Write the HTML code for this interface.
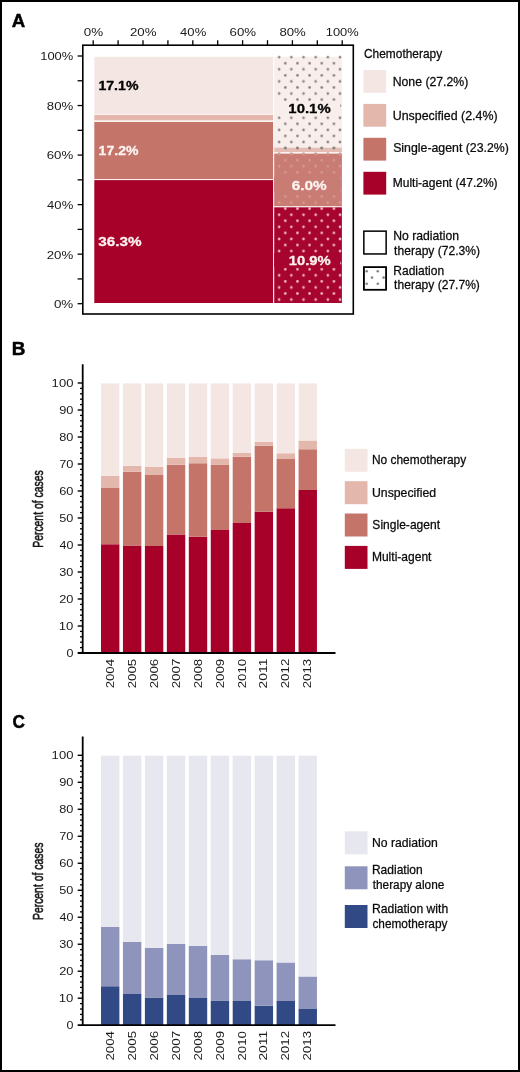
<!DOCTYPE html>
<html lang="en"><head><meta charset="utf-8"><title>Figure</title>
<style>html,body{margin:0;padding:0;background:#fff}svg{display:block}</style></head>
<body>
<svg width="520" height="1072" viewBox="0 0 520 1072" font-family='"Liberation Sans", Arial, Helvetica, sans-serif'>
<defs><pattern id="dk" x="279.2" y="57.2" width="12.16" height="12.12" patternUnits="userSpaceOnUse"><circle cx="0" cy="0" r="1.35" fill="#8c8484"/><circle cx="12.16" cy="0" r="1.35" fill="#8c8484"/><circle cx="0" cy="12.12" r="1.35" fill="#8c8484"/><circle cx="12.16" cy="12.12" r="1.35" fill="#8c8484"/><circle cx="6.08" cy="6.06" r="1.35" fill="#8c8484"/></pattern><pattern id="md" x="279.2" y="57.2" width="12.16" height="12.12" patternUnits="userSpaceOnUse"><circle cx="0" cy="0" r="1.3" fill="#d5978f"/><circle cx="12.16" cy="0" r="1.3" fill="#d5978f"/><circle cx="0" cy="12.12" r="1.3" fill="#d5978f"/><circle cx="12.16" cy="12.12" r="1.3" fill="#d5978f"/><circle cx="6.08" cy="6.06" r="1.3" fill="#d5978f"/></pattern><pattern id="lt" x="279.2" y="57.2" width="12.16" height="12.12" patternUnits="userSpaceOnUse"><circle cx="0" cy="0" r="1.3" fill="#f3b9c0"/><circle cx="12.16" cy="0" r="1.3" fill="#f3b9c0"/><circle cx="0" cy="12.12" r="1.3" fill="#f3b9c0"/><circle cx="12.16" cy="12.12" r="1.3" fill="#f3b9c0"/><circle cx="6.08" cy="6.06" r="1.3" fill="#f3b9c0"/></pattern></defs>
<rect x="0" y="0" width="520" height="1072" fill="#fff"/>
<rect x="1" y="1" width="518" height="1070" fill="none" stroke="#000" stroke-width="2"/>
<text transform="translate(11.83 26.8) scale(1.0030 1)" font-size="18.6" font-weight="bold" fill="#000" stroke="#000" stroke-width="0.5" stroke-linejoin="round">A</text>
<rect x="82.8" y="45.2" width="270.5" height="268.8" fill="none" stroke="#000" stroke-width="1.6"/>
<line x1="93.2" y1="40.2" x2="93.2" y2="45.2" stroke="#000" stroke-width="1.3"/>
<line x1="77.6" y1="303.7" x2="82.8" y2="303.7" stroke="#000" stroke-width="1.3"/>
<line x1="118.1" y1="40.2" x2="118.1" y2="45.2" stroke="#000" stroke-width="1.3"/>
<line x1="77.6" y1="278.93" x2="82.8" y2="278.93" stroke="#000" stroke-width="1.3"/>
<line x1="143" y1="40.2" x2="143" y2="45.2" stroke="#000" stroke-width="1.3"/>
<line x1="77.6" y1="254.16" x2="82.8" y2="254.16" stroke="#000" stroke-width="1.3"/>
<line x1="167.9" y1="40.2" x2="167.9" y2="45.2" stroke="#000" stroke-width="1.3"/>
<line x1="77.6" y1="229.39" x2="82.8" y2="229.39" stroke="#000" stroke-width="1.3"/>
<line x1="192.8" y1="40.2" x2="192.8" y2="45.2" stroke="#000" stroke-width="1.3"/>
<line x1="77.6" y1="204.62" x2="82.8" y2="204.62" stroke="#000" stroke-width="1.3"/>
<line x1="217.7" y1="40.2" x2="217.7" y2="45.2" stroke="#000" stroke-width="1.3"/>
<line x1="77.6" y1="179.85" x2="82.8" y2="179.85" stroke="#000" stroke-width="1.3"/>
<line x1="242.6" y1="40.2" x2="242.6" y2="45.2" stroke="#000" stroke-width="1.3"/>
<line x1="77.6" y1="155.08" x2="82.8" y2="155.08" stroke="#000" stroke-width="1.3"/>
<line x1="267.5" y1="40.2" x2="267.5" y2="45.2" stroke="#000" stroke-width="1.3"/>
<line x1="77.6" y1="130.31" x2="82.8" y2="130.31" stroke="#000" stroke-width="1.3"/>
<line x1="292.4" y1="40.2" x2="292.4" y2="45.2" stroke="#000" stroke-width="1.3"/>
<line x1="77.6" y1="105.54" x2="82.8" y2="105.54" stroke="#000" stroke-width="1.3"/>
<line x1="317.3" y1="40.2" x2="317.3" y2="45.2" stroke="#000" stroke-width="1.3"/>
<line x1="77.6" y1="80.77" x2="82.8" y2="80.77" stroke="#000" stroke-width="1.3"/>
<line x1="342.2" y1="40.2" x2="342.2" y2="45.2" stroke="#000" stroke-width="1.3"/>
<line x1="77.6" y1="56" x2="82.8" y2="56" stroke="#000" stroke-width="1.3"/>
<text transform="translate(83.8 36.1) scale(1.1361 1)" font-size="11.8" fill="#1a1a1a">0%</text>
<text transform="translate(53.9 308.1) scale(1.1361 1)" font-size="11.8" fill="#1a1a1a">0%</text>
<text transform="translate(129.94 36.1) scale(1.1226 1)" font-size="11.8" fill="#1a1a1a">20%</text>
<text transform="translate(46.74 258.56) scale(1.1226 1)" font-size="11.8" fill="#1a1a1a">20%</text>
<text transform="translate(180.11 36.1) scale(1.1067 1)" font-size="11.8" fill="#1a1a1a">40%</text>
<text transform="translate(47.11 209.02) scale(1.1067 1)" font-size="11.8" fill="#1a1a1a">40%</text>
<text transform="translate(229.54 36.1) scale(1.1226 1)" font-size="11.8" fill="#1a1a1a">60%</text>
<text transform="translate(46.74 159.48) scale(1.1226 1)" font-size="11.8" fill="#1a1a1a">60%</text>
<text transform="translate(279.44 36.1) scale(1.1182 1)" font-size="11.8" fill="#1a1a1a">80%</text>
<text transform="translate(46.84 109.94) scale(1.1182 1)" font-size="11.8" fill="#1a1a1a">80%</text>
<text transform="translate(325.73 36.1) scale(1.0942 1)" font-size="11.8" fill="#1a1a1a">100%</text>
<text transform="translate(40.23 60.4) scale(1.0942 1)" font-size="11.8" fill="#1a1a1a">100%</text>
<rect x="94.3" y="56.8" width="178.8" height="57.7" fill="#f4e6e3"/>
<rect x="94.3" y="115" width="178.8" height="5.4" fill="#e3b7ac"/>
<rect x="94.3" y="121.9" width="178.8" height="57.2" fill="#c5746a"/>
<rect x="94.3" y="180.1" width="178.8" height="122.9" fill="#a70029"/>
<rect x="274.2" y="56.8" width="67.7" height="90.8" fill="#f8eeec"/>
<rect x="274.2" y="147.6" width="67.7" height="4.6" fill="#e6bdb4"/>
<rect x="274.2" y="153.6" width="67.7" height="52.6" fill="#c97c74"/>
<rect x="274.2" y="207.3" width="67.7" height="95.7" fill="#a70530"/>
<rect x="275.1" y="55.4" width="66.8" height="93.6" fill="url(#dk)"/>
<rect x="275.1" y="146.2" width="66.8" height="7.4" fill="url(#dk)"/>
<rect x="275.1" y="152.2" width="66.8" height="55.4" fill="url(#md)"/>
<rect x="275.1" y="205.9" width="66.8" height="97.1" fill="url(#lt)"/>
<rect x="274.2" y="101.6" width="66" height="14" fill="#f8eeec"/>
<rect x="274.2" y="176.4" width="66" height="16.1" fill="#c97c74"/>
<rect x="274.2" y="253.1" width="66" height="14" fill="#a70530"/>
<text transform="translate(98.42 89.9) scale(1.0384 1)" font-size="13.6" font-weight="bold" fill="#000" stroke="#000" stroke-width="0.3" stroke-linejoin="round">17.1%</text>
<text transform="translate(98.62 154.5) scale(1.0330 1)" font-size="13.6" font-weight="bold" fill="#fdf3f0" stroke="#fdf3f0" stroke-width="0.3" stroke-linejoin="round">17.2%</text>
<text transform="translate(98.26 245.9) scale(1.1237 1)" font-size="13.6" font-weight="bold" fill="#fdf3f0" stroke="#fdf3f0" stroke-width="0.3" stroke-linejoin="round">36.3%</text>
<text transform="translate(288.37 113) scale(1.0973 1)" font-size="13.6" font-weight="bold" fill="#000" stroke="#000" stroke-width="0.3" stroke-linejoin="round">10.1%</text>
<text transform="translate(291.66 189.9) scale(1.1274 1)" font-size="13.6" font-weight="bold" fill="#fdf3f0" stroke="#fdf3f0" stroke-width="0.3" stroke-linejoin="round">6.0%</text>
<text transform="translate(288.78 264.5) scale(1.0865 1)" font-size="13.6" font-weight="bold" fill="#fdf3f0" stroke="#fdf3f0" stroke-width="0.3" stroke-linejoin="round">10.9%</text>
<text transform="translate(364 57.8) scale(0.9774 1)" font-size="12.2" fill="#0a0a0a" stroke="#0a0a0a" stroke-width="0.25" stroke-linejoin="round">Chemotherapy</text>
<rect x="363.4" y="70" width="22.8" height="22.8" fill="#f4e6e3"/>
<text transform="translate(392.69 85.6) scale(1.0063 1)" font-size="12.2" fill="#0a0a0a" stroke="#0a0a0a" stroke-width="0.25" stroke-linejoin="round">None (27.2%)</text>
<rect x="363.4" y="103.9" width="22.8" height="22.8" fill="#e3b7ac"/>
<text transform="translate(392.74 119.6) scale(1.0179 1)" font-size="12.2" fill="#0a0a0a" stroke="#0a0a0a" stroke-width="0.25" stroke-linejoin="round">Unspecified (2.4%)</text>
<rect x="363.4" y="137.8" width="22.8" height="22.8" fill="#c5746a"/>
<text transform="translate(393.14 151.5) scale(1.0111 1)" font-size="12.2" fill="#0a0a0a" stroke="#0a0a0a" stroke-width="0.25" stroke-linejoin="round">Single-agent (23.2%)</text>
<rect x="363.4" y="171.8" width="22.8" height="22.8" fill="#a70029"/>
<text transform="translate(392.71 187.1) scale(0.9856 1)" font-size="12.2" fill="#0a0a0a" stroke="#0a0a0a" stroke-width="0.25" stroke-linejoin="round">Multi-agent (47.2%)</text>
<rect x="363.85" y="231.15" width="22.3" height="22.8" fill="#fff" stroke="#000" stroke-width="1.5"/>
<rect x="363.85" y="267.2" width="22.3" height="22.5" fill="#fff" stroke="#000" stroke-width="1.5"/>
<circle cx="366.7" cy="271.2" r="1.3" fill="#8c8484"/>
<circle cx="377.8" cy="271.2" r="1.3" fill="#8c8484"/>
<circle cx="372.0" cy="277.6" r="1.3" fill="#8c8484"/>
<circle cx="383.6" cy="277.6" r="1.3" fill="#8c8484"/>
<circle cx="366.7" cy="283.8" r="1.3" fill="#8c8484"/>
<circle cx="377.8" cy="283.8" r="1.3" fill="#8c8484"/>
<rect x="363.85" y="267.2" width="22.3" height="22.5" fill="none" stroke="#000" stroke-width="1.5"/>
<text transform="translate(393.29 239.9) scale(1.0002 1)" font-size="12.2" fill="#0a0a0a" stroke="#0a0a0a" stroke-width="0.25" stroke-linejoin="round">No radiation</text>
<text transform="translate(394.12 254.8) scale(0.9908 1)" font-size="12.2" fill="#0a0a0a" stroke="#0a0a0a" stroke-width="0.25" stroke-linejoin="round">therapy (72.3%)</text>
<text transform="translate(393.31 274.6) scale(0.9864 1)" font-size="12.2" fill="#0a0a0a" stroke="#0a0a0a" stroke-width="0.25" stroke-linejoin="round">Radiation</text>
<text transform="translate(394.12 289.2) scale(0.9885 1)" font-size="12.2" fill="#0a0a0a" stroke="#0a0a0a" stroke-width="0.25" stroke-linejoin="round">therapy (27.7%)</text>
<text transform="translate(11.83 354.9) scale(1.0136 1)" font-size="18.6" font-weight="bold" fill="#000" stroke="#000" stroke-width="0.5" stroke-linejoin="round">B</text>
<rect x="101" y="544.25" width="18.4" height="108.75" fill="#a70029"/>
<rect x="101" y="488" width="18.4" height="56.25" fill="#c5746a"/>
<rect x="101" y="475.75" width="18.4" height="12.25" fill="#e3b7ac"/>
<rect x="101" y="383.4" width="18.4" height="92.35" fill="#f4e6e3"/>
<rect x="122.95" y="545.5" width="18.4" height="107.5" fill="#a70029"/>
<rect x="122.95" y="471.75" width="18.4" height="73.75" fill="#c5746a"/>
<rect x="122.95" y="465.75" width="18.4" height="6" fill="#e3b7ac"/>
<rect x="122.95" y="383.4" width="18.4" height="82.35" fill="#f4e6e3"/>
<rect x="144.9" y="546" width="18.4" height="107" fill="#a70029"/>
<rect x="144.9" y="475" width="18.4" height="71" fill="#c5746a"/>
<rect x="144.9" y="467" width="18.4" height="8" fill="#e3b7ac"/>
<rect x="144.9" y="383.4" width="18.4" height="83.6" fill="#f4e6e3"/>
<rect x="166.85" y="534.5" width="18.4" height="118.5" fill="#a70029"/>
<rect x="166.85" y="464.75" width="18.4" height="69.75" fill="#c5746a"/>
<rect x="166.85" y="458" width="18.4" height="6.75" fill="#e3b7ac"/>
<rect x="166.85" y="383.4" width="18.4" height="74.6" fill="#f4e6e3"/>
<rect x="188.8" y="536.75" width="18.4" height="116.25" fill="#a70029"/>
<rect x="188.8" y="463.25" width="18.4" height="73.5" fill="#c5746a"/>
<rect x="188.8" y="457" width="18.4" height="6.25" fill="#e3b7ac"/>
<rect x="188.8" y="383.4" width="18.4" height="73.6" fill="#f4e6e3"/>
<rect x="210.75" y="530" width="18.4" height="123" fill="#a70029"/>
<rect x="210.75" y="464.6" width="18.4" height="65.4" fill="#c5746a"/>
<rect x="210.75" y="458.4" width="18.4" height="6.2" fill="#e3b7ac"/>
<rect x="210.75" y="383.4" width="18.4" height="75" fill="#f4e6e3"/>
<rect x="232.7" y="523" width="18.4" height="130" fill="#a70029"/>
<rect x="232.7" y="456.75" width="18.4" height="66.25" fill="#c5746a"/>
<rect x="232.7" y="453" width="18.4" height="3.75" fill="#e3b7ac"/>
<rect x="232.7" y="383.4" width="18.4" height="69.6" fill="#f4e6e3"/>
<rect x="254.65" y="511.75" width="18.4" height="141.25" fill="#a70029"/>
<rect x="254.65" y="445.75" width="18.4" height="66" fill="#c5746a"/>
<rect x="254.65" y="442" width="18.4" height="3.75" fill="#e3b7ac"/>
<rect x="254.65" y="383.4" width="18.4" height="58.6" fill="#f4e6e3"/>
<rect x="276.6" y="508.25" width="18.4" height="144.75" fill="#a70029"/>
<rect x="276.6" y="459" width="18.4" height="49.25" fill="#c5746a"/>
<rect x="276.6" y="453.25" width="18.4" height="5.75" fill="#e3b7ac"/>
<rect x="276.6" y="383.4" width="18.4" height="69.85" fill="#f4e6e3"/>
<rect x="298.55" y="490" width="18.4" height="163" fill="#a70029"/>
<rect x="298.55" y="449.25" width="18.4" height="40.75" fill="#c5746a"/>
<rect x="298.55" y="440.5" width="18.4" height="8.75" fill="#e3b7ac"/>
<rect x="298.55" y="383.4" width="18.4" height="57.1" fill="#f4e6e3"/>
<line x1="82.7" y1="364.3" x2="82.7" y2="653.9" stroke="#000" stroke-width="1.8"/>
<line x1="77.7" y1="653" x2="335.5" y2="653" stroke="#000" stroke-width="1.8"/>
<text transform="translate(66.43 657.15) scale(1.0593 1)" font-size="11.8" fill="#1a1a1a">0</text>
<line x1="80" y1="647.6" x2="82.7" y2="647.6" stroke="#000" stroke-width="1.3"/>
<line x1="80" y1="642.2" x2="82.7" y2="642.2" stroke="#000" stroke-width="1.3"/>
<line x1="80" y1="636.8" x2="82.7" y2="636.8" stroke="#000" stroke-width="1.3"/>
<line x1="80" y1="631.4" x2="82.7" y2="631.4" stroke="#000" stroke-width="1.3"/>
<line x1="77.7" y1="626" x2="82.7" y2="626" stroke="#000" stroke-width="1.4"/>
<text transform="translate(58.82 630.15) scale(1.1130 1)" font-size="11.8" fill="#1a1a1a">10</text>
<line x1="80" y1="620.6" x2="82.7" y2="620.6" stroke="#000" stroke-width="1.3"/>
<line x1="80" y1="615.2" x2="82.7" y2="615.2" stroke="#000" stroke-width="1.3"/>
<line x1="80" y1="609.8" x2="82.7" y2="609.8" stroke="#000" stroke-width="1.3"/>
<line x1="80" y1="604.4" x2="82.7" y2="604.4" stroke="#000" stroke-width="1.3"/>
<line x1="77.7" y1="599" x2="82.7" y2="599" stroke="#000" stroke-width="1.4"/>
<text transform="translate(59.16 603.15) scale(1.0857 1)" font-size="11.8" fill="#1a1a1a">20</text>
<line x1="80" y1="593.6" x2="82.7" y2="593.6" stroke="#000" stroke-width="1.3"/>
<line x1="80" y1="588.2" x2="82.7" y2="588.2" stroke="#000" stroke-width="1.3"/>
<line x1="80" y1="582.8" x2="82.7" y2="582.8" stroke="#000" stroke-width="1.3"/>
<line x1="80" y1="577.4" x2="82.7" y2="577.4" stroke="#000" stroke-width="1.3"/>
<line x1="77.7" y1="572" x2="82.7" y2="572" stroke="#000" stroke-width="1.4"/>
<text transform="translate(59.33 576.15) scale(1.0726 1)" font-size="11.8" fill="#1a1a1a">30</text>
<line x1="80" y1="566.6" x2="82.7" y2="566.6" stroke="#000" stroke-width="1.3"/>
<line x1="80" y1="561.2" x2="82.7" y2="561.2" stroke="#000" stroke-width="1.3"/>
<line x1="80" y1="555.8" x2="82.7" y2="555.8" stroke="#000" stroke-width="1.3"/>
<line x1="80" y1="550.4" x2="82.7" y2="550.4" stroke="#000" stroke-width="1.3"/>
<line x1="77.7" y1="545" x2="82.7" y2="545" stroke="#000" stroke-width="1.4"/>
<text transform="translate(59.52 549.15) scale(1.0573 1)" font-size="11.8" fill="#1a1a1a">40</text>
<line x1="80" y1="539.6" x2="82.7" y2="539.6" stroke="#000" stroke-width="1.3"/>
<line x1="80" y1="534.2" x2="82.7" y2="534.2" stroke="#000" stroke-width="1.3"/>
<line x1="80" y1="528.8" x2="82.7" y2="528.8" stroke="#000" stroke-width="1.3"/>
<line x1="80" y1="523.4" x2="82.7" y2="523.4" stroke="#000" stroke-width="1.3"/>
<line x1="77.7" y1="518" x2="82.7" y2="518" stroke="#000" stroke-width="1.4"/>
<text transform="translate(59.29 522.15) scale(1.0752 1)" font-size="11.8" fill="#1a1a1a">50</text>
<line x1="80" y1="512.6" x2="82.7" y2="512.6" stroke="#000" stroke-width="1.3"/>
<line x1="80" y1="507.2" x2="82.7" y2="507.2" stroke="#000" stroke-width="1.3"/>
<line x1="80" y1="501.8" x2="82.7" y2="501.8" stroke="#000" stroke-width="1.3"/>
<line x1="80" y1="496.4" x2="82.7" y2="496.4" stroke="#000" stroke-width="1.3"/>
<line x1="77.7" y1="491" x2="82.7" y2="491" stroke="#000" stroke-width="1.4"/>
<text transform="translate(59.16 495.15) scale(1.0857 1)" font-size="11.8" fill="#1a1a1a">60</text>
<line x1="80" y1="485.6" x2="82.7" y2="485.6" stroke="#000" stroke-width="1.3"/>
<line x1="80" y1="480.2" x2="82.7" y2="480.2" stroke="#000" stroke-width="1.3"/>
<line x1="80" y1="474.8" x2="82.7" y2="474.8" stroke="#000" stroke-width="1.3"/>
<line x1="80" y1="469.4" x2="82.7" y2="469.4" stroke="#000" stroke-width="1.3"/>
<line x1="77.7" y1="464" x2="82.7" y2="464" stroke="#000" stroke-width="1.4"/>
<text transform="translate(59.16 468.15) scale(1.0857 1)" font-size="11.8" fill="#1a1a1a">70</text>
<line x1="80" y1="458.6" x2="82.7" y2="458.6" stroke="#000" stroke-width="1.3"/>
<line x1="80" y1="453.2" x2="82.7" y2="453.2" stroke="#000" stroke-width="1.3"/>
<line x1="80" y1="447.8" x2="82.7" y2="447.8" stroke="#000" stroke-width="1.3"/>
<line x1="80" y1="442.4" x2="82.7" y2="442.4" stroke="#000" stroke-width="1.3"/>
<line x1="77.7" y1="437" x2="82.7" y2="437" stroke="#000" stroke-width="1.4"/>
<text transform="translate(59.26 441.15) scale(1.0778 1)" font-size="11.8" fill="#1a1a1a">80</text>
<line x1="80" y1="431.6" x2="82.7" y2="431.6" stroke="#000" stroke-width="1.3"/>
<line x1="80" y1="426.2" x2="82.7" y2="426.2" stroke="#000" stroke-width="1.3"/>
<line x1="80" y1="420.8" x2="82.7" y2="420.8" stroke="#000" stroke-width="1.3"/>
<line x1="80" y1="415.4" x2="82.7" y2="415.4" stroke="#000" stroke-width="1.3"/>
<line x1="77.7" y1="410" x2="82.7" y2="410" stroke="#000" stroke-width="1.4"/>
<text transform="translate(59.19 414.15) scale(1.0831 1)" font-size="11.8" fill="#1a1a1a">90</text>
<line x1="80" y1="404.6" x2="82.7" y2="404.6" stroke="#000" stroke-width="1.3"/>
<line x1="80" y1="399.2" x2="82.7" y2="399.2" stroke="#000" stroke-width="1.3"/>
<line x1="80" y1="393.8" x2="82.7" y2="393.8" stroke="#000" stroke-width="1.3"/>
<line x1="80" y1="388.4" x2="82.7" y2="388.4" stroke="#000" stroke-width="1.3"/>
<line x1="77.7" y1="383" x2="82.7" y2="383" stroke="#000" stroke-width="1.4"/>
<text transform="translate(51.62 387.15) scale(1.1063 1)" font-size="11.8" fill="#1a1a1a">100</text>
<text transform="translate(113.8 688.36) rotate(-90) scale(1.1220 1)" font-size="11.8" fill="#1a1a1a">2004</text>
<text transform="translate(135.75 688.37) rotate(-90) scale(1.1286 1)" font-size="11.8" fill="#1a1a1a">2005</text>
<text transform="translate(157.7 688.37) rotate(-90) scale(1.1299 1)" font-size="11.8" fill="#1a1a1a">2006</text>
<text transform="translate(179.65 688.37) rotate(-90) scale(1.1326 1)" font-size="11.8" fill="#1a1a1a">2007</text>
<text transform="translate(201.6 688.37) rotate(-90) scale(1.1299 1)" font-size="11.8" fill="#1a1a1a">2008</text>
<text transform="translate(223.55 688.37) rotate(-90) scale(1.1313 1)" font-size="11.8" fill="#1a1a1a">2009</text>
<text transform="translate(245.5 688.37) rotate(-90) scale(1.1273 1)" font-size="11.8" fill="#1a1a1a">2010</text>
<text transform="translate(267.45 688.39) rotate(-90) scale(1.1726 1)" font-size="11.8" fill="#1a1a1a">2011</text>
<text transform="translate(289.4 688.37) rotate(-90) scale(1.1326 1)" font-size="11.8" fill="#1a1a1a">2012</text>
<text transform="translate(311.35 688.37) rotate(-90) scale(1.1299 1)" font-size="11.8" fill="#1a1a1a">2013</text>
<text transform="translate(42.65 547.76) rotate(-90) scale(0.7219 1)" font-size="14.4" fill="#1a1a1a" stroke="#1a1a1a" stroke-width="0.6" stroke-linejoin="round">Percent of cases</text>
<rect x="344.8" y="448.8" width="22.7" height="23" fill="#f4e6e3"/>
<text transform="translate(371.91 464.2) scale(0.9795 1)" font-size="12.2" fill="#0a0a0a" stroke="#0a0a0a" stroke-width="0.25" stroke-linejoin="round">No chemotherapy</text>
<rect x="344.8" y="481.2" width="22.7" height="23" fill="#e3b7ac"/>
<text transform="translate(371.95 496.7) scale(1.0075 1)" font-size="12.2" fill="#0a0a0a" stroke="#0a0a0a" stroke-width="0.25" stroke-linejoin="round">Unspecified</text>
<rect x="344.8" y="513.5" width="22.7" height="23" fill="#c5746a"/>
<text transform="translate(372.36 528.9) scale(0.9888 1)" font-size="12.2" fill="#0a0a0a" stroke="#0a0a0a" stroke-width="0.25" stroke-linejoin="round">Single-agent</text>
<rect x="344.8" y="545.9" width="22.7" height="23" fill="#a70029"/>
<text transform="translate(371.91 561.2) scale(0.9872 1)" font-size="12.2" fill="#0a0a0a" stroke="#0a0a0a" stroke-width="0.25" stroke-linejoin="round">Multi-agent</text>
<text transform="translate(12.41 727.5) scale(0.9275 1)" font-size="18.6" font-weight="bold" fill="#000" stroke="#000" stroke-width="0.5" stroke-linejoin="round">C</text>
<rect x="101" y="986.25" width="18.4" height="38.95" fill="#314a85"/>
<rect x="101" y="927" width="18.4" height="59.25" fill="#8e94bb"/>
<rect x="101" y="755.7" width="18.4" height="171.3" fill="#e7e7f0"/>
<rect x="122.95" y="994" width="18.4" height="31.2" fill="#314a85"/>
<rect x="122.95" y="942" width="18.4" height="52" fill="#8e94bb"/>
<rect x="122.95" y="755.7" width="18.4" height="186.3" fill="#e7e7f0"/>
<rect x="144.9" y="997.5" width="18.4" height="27.7" fill="#314a85"/>
<rect x="144.9" y="947.75" width="18.4" height="49.75" fill="#8e94bb"/>
<rect x="144.9" y="755.7" width="18.4" height="192.05" fill="#e7e7f0"/>
<rect x="166.85" y="995" width="18.4" height="30.2" fill="#314a85"/>
<rect x="166.85" y="944" width="18.4" height="51" fill="#8e94bb"/>
<rect x="166.85" y="755.7" width="18.4" height="188.3" fill="#e7e7f0"/>
<rect x="188.8" y="998" width="18.4" height="27.2" fill="#314a85"/>
<rect x="188.8" y="945.8" width="18.4" height="52.2" fill="#8e94bb"/>
<rect x="188.8" y="755.7" width="18.4" height="190.1" fill="#e7e7f0"/>
<rect x="210.75" y="1000.5" width="18.4" height="24.7" fill="#314a85"/>
<rect x="210.75" y="955" width="18.4" height="45.5" fill="#8e94bb"/>
<rect x="210.75" y="755.7" width="18.4" height="199.3" fill="#e7e7f0"/>
<rect x="232.7" y="1001" width="18.4" height="24.2" fill="#314a85"/>
<rect x="232.7" y="959.25" width="18.4" height="41.75" fill="#8e94bb"/>
<rect x="232.7" y="755.7" width="18.4" height="203.55" fill="#e7e7f0"/>
<rect x="254.65" y="1005.75" width="18.4" height="19.45" fill="#314a85"/>
<rect x="254.65" y="960.25" width="18.4" height="45.5" fill="#8e94bb"/>
<rect x="254.65" y="755.7" width="18.4" height="204.55" fill="#e7e7f0"/>
<rect x="276.6" y="1001" width="18.4" height="24.2" fill="#314a85"/>
<rect x="276.6" y="962.5" width="18.4" height="38.5" fill="#8e94bb"/>
<rect x="276.6" y="755.7" width="18.4" height="206.8" fill="#e7e7f0"/>
<rect x="298.55" y="1009" width="18.4" height="16.2" fill="#314a85"/>
<rect x="298.55" y="976.5" width="18.4" height="32.5" fill="#8e94bb"/>
<rect x="298.55" y="755.7" width="18.4" height="220.8" fill="#e7e7f0"/>
<line x1="82.7" y1="736.5" x2="82.7" y2="1026.1" stroke="#000" stroke-width="1.8"/>
<line x1="77.7" y1="1025.2" x2="335.5" y2="1025.2" stroke="#000" stroke-width="1.8"/>
<text transform="translate(66.43 1029.35) scale(1.0593 1)" font-size="11.8" fill="#1a1a1a">0</text>
<line x1="80" y1="1019.8" x2="82.7" y2="1019.8" stroke="#000" stroke-width="1.3"/>
<line x1="80" y1="1014.4" x2="82.7" y2="1014.4" stroke="#000" stroke-width="1.3"/>
<line x1="80" y1="1009.01" x2="82.7" y2="1009.01" stroke="#000" stroke-width="1.3"/>
<line x1="80" y1="1003.61" x2="82.7" y2="1003.61" stroke="#000" stroke-width="1.3"/>
<line x1="77.7" y1="998.21" x2="82.7" y2="998.21" stroke="#000" stroke-width="1.4"/>
<text transform="translate(58.82 1002.36) scale(1.1130 1)" font-size="11.8" fill="#1a1a1a">10</text>
<line x1="80" y1="992.81" x2="82.7" y2="992.81" stroke="#000" stroke-width="1.3"/>
<line x1="80" y1="987.41" x2="82.7" y2="987.41" stroke="#000" stroke-width="1.3"/>
<line x1="80" y1="982.02" x2="82.7" y2="982.02" stroke="#000" stroke-width="1.3"/>
<line x1="80" y1="976.62" x2="82.7" y2="976.62" stroke="#000" stroke-width="1.3"/>
<line x1="77.7" y1="971.22" x2="82.7" y2="971.22" stroke="#000" stroke-width="1.4"/>
<text transform="translate(59.16 975.37) scale(1.0857 1)" font-size="11.8" fill="#1a1a1a">20</text>
<line x1="80" y1="965.82" x2="82.7" y2="965.82" stroke="#000" stroke-width="1.3"/>
<line x1="80" y1="960.42" x2="82.7" y2="960.42" stroke="#000" stroke-width="1.3"/>
<line x1="80" y1="955.03" x2="82.7" y2="955.03" stroke="#000" stroke-width="1.3"/>
<line x1="80" y1="949.63" x2="82.7" y2="949.63" stroke="#000" stroke-width="1.3"/>
<line x1="77.7" y1="944.23" x2="82.7" y2="944.23" stroke="#000" stroke-width="1.4"/>
<text transform="translate(59.33 948.38) scale(1.0726 1)" font-size="11.8" fill="#1a1a1a">30</text>
<line x1="80" y1="938.83" x2="82.7" y2="938.83" stroke="#000" stroke-width="1.3"/>
<line x1="80" y1="933.43" x2="82.7" y2="933.43" stroke="#000" stroke-width="1.3"/>
<line x1="80" y1="928.04" x2="82.7" y2="928.04" stroke="#000" stroke-width="1.3"/>
<line x1="80" y1="922.64" x2="82.7" y2="922.64" stroke="#000" stroke-width="1.3"/>
<line x1="77.7" y1="917.24" x2="82.7" y2="917.24" stroke="#000" stroke-width="1.4"/>
<text transform="translate(59.52 921.39) scale(1.0573 1)" font-size="11.8" fill="#1a1a1a">40</text>
<line x1="80" y1="911.84" x2="82.7" y2="911.84" stroke="#000" stroke-width="1.3"/>
<line x1="80" y1="906.44" x2="82.7" y2="906.44" stroke="#000" stroke-width="1.3"/>
<line x1="80" y1="901.05" x2="82.7" y2="901.05" stroke="#000" stroke-width="1.3"/>
<line x1="80" y1="895.65" x2="82.7" y2="895.65" stroke="#000" stroke-width="1.3"/>
<line x1="77.7" y1="890.25" x2="82.7" y2="890.25" stroke="#000" stroke-width="1.4"/>
<text transform="translate(59.29 894.4) scale(1.0752 1)" font-size="11.8" fill="#1a1a1a">50</text>
<line x1="80" y1="884.85" x2="82.7" y2="884.85" stroke="#000" stroke-width="1.3"/>
<line x1="80" y1="879.45" x2="82.7" y2="879.45" stroke="#000" stroke-width="1.3"/>
<line x1="80" y1="874.06" x2="82.7" y2="874.06" stroke="#000" stroke-width="1.3"/>
<line x1="80" y1="868.66" x2="82.7" y2="868.66" stroke="#000" stroke-width="1.3"/>
<line x1="77.7" y1="863.26" x2="82.7" y2="863.26" stroke="#000" stroke-width="1.4"/>
<text transform="translate(59.16 867.41) scale(1.0857 1)" font-size="11.8" fill="#1a1a1a">60</text>
<line x1="80" y1="857.86" x2="82.7" y2="857.86" stroke="#000" stroke-width="1.3"/>
<line x1="80" y1="852.46" x2="82.7" y2="852.46" stroke="#000" stroke-width="1.3"/>
<line x1="80" y1="847.07" x2="82.7" y2="847.07" stroke="#000" stroke-width="1.3"/>
<line x1="80" y1="841.67" x2="82.7" y2="841.67" stroke="#000" stroke-width="1.3"/>
<line x1="77.7" y1="836.27" x2="82.7" y2="836.27" stroke="#000" stroke-width="1.4"/>
<text transform="translate(59.16 840.42) scale(1.0857 1)" font-size="11.8" fill="#1a1a1a">70</text>
<line x1="80" y1="830.87" x2="82.7" y2="830.87" stroke="#000" stroke-width="1.3"/>
<line x1="80" y1="825.47" x2="82.7" y2="825.47" stroke="#000" stroke-width="1.3"/>
<line x1="80" y1="820.08" x2="82.7" y2="820.08" stroke="#000" stroke-width="1.3"/>
<line x1="80" y1="814.68" x2="82.7" y2="814.68" stroke="#000" stroke-width="1.3"/>
<line x1="77.7" y1="809.28" x2="82.7" y2="809.28" stroke="#000" stroke-width="1.4"/>
<text transform="translate(59.26 813.43) scale(1.0778 1)" font-size="11.8" fill="#1a1a1a">80</text>
<line x1="80" y1="803.88" x2="82.7" y2="803.88" stroke="#000" stroke-width="1.3"/>
<line x1="80" y1="798.48" x2="82.7" y2="798.48" stroke="#000" stroke-width="1.3"/>
<line x1="80" y1="793.09" x2="82.7" y2="793.09" stroke="#000" stroke-width="1.3"/>
<line x1="80" y1="787.69" x2="82.7" y2="787.69" stroke="#000" stroke-width="1.3"/>
<line x1="77.7" y1="782.29" x2="82.7" y2="782.29" stroke="#000" stroke-width="1.4"/>
<text transform="translate(59.19 786.44) scale(1.0831 1)" font-size="11.8" fill="#1a1a1a">90</text>
<line x1="80" y1="776.89" x2="82.7" y2="776.89" stroke="#000" stroke-width="1.3"/>
<line x1="80" y1="771.49" x2="82.7" y2="771.49" stroke="#000" stroke-width="1.3"/>
<line x1="80" y1="766.1" x2="82.7" y2="766.1" stroke="#000" stroke-width="1.3"/>
<line x1="80" y1="760.7" x2="82.7" y2="760.7" stroke="#000" stroke-width="1.3"/>
<line x1="77.7" y1="755.3" x2="82.7" y2="755.3" stroke="#000" stroke-width="1.4"/>
<text transform="translate(51.62 759.45) scale(1.1063 1)" font-size="11.8" fill="#1a1a1a">100</text>
<text transform="translate(113.8 1060.56) rotate(-90) scale(1.1220 1)" font-size="11.8" fill="#1a1a1a">2004</text>
<text transform="translate(135.75 1060.57) rotate(-90) scale(1.1286 1)" font-size="11.8" fill="#1a1a1a">2005</text>
<text transform="translate(157.7 1060.57) rotate(-90) scale(1.1299 1)" font-size="11.8" fill="#1a1a1a">2006</text>
<text transform="translate(179.65 1060.57) rotate(-90) scale(1.1326 1)" font-size="11.8" fill="#1a1a1a">2007</text>
<text transform="translate(201.6 1060.57) rotate(-90) scale(1.1299 1)" font-size="11.8" fill="#1a1a1a">2008</text>
<text transform="translate(223.55 1060.57) rotate(-90) scale(1.1313 1)" font-size="11.8" fill="#1a1a1a">2009</text>
<text transform="translate(245.5 1060.57) rotate(-90) scale(1.1273 1)" font-size="11.8" fill="#1a1a1a">2010</text>
<text transform="translate(267.45 1060.59) rotate(-90) scale(1.1726 1)" font-size="11.8" fill="#1a1a1a">2011</text>
<text transform="translate(289.4 1060.57) rotate(-90) scale(1.1326 1)" font-size="11.8" fill="#1a1a1a">2012</text>
<text transform="translate(311.35 1060.57) rotate(-90) scale(1.1299 1)" font-size="11.8" fill="#1a1a1a">2013</text>
<text transform="translate(42.65 920.01) rotate(-90) scale(0.7219 1)" font-size="14.4" fill="#1a1a1a" stroke="#1a1a1a" stroke-width="0.6" stroke-linejoin="round">Percent of cases</text>
<rect x="344.8" y="831.3" width="22.7" height="23" fill="#e7e7f0"/>
<text transform="translate(371.89 846.8) scale(1.0017 1)" font-size="12.2" fill="#0a0a0a" stroke="#0a0a0a" stroke-width="0.25" stroke-linejoin="round">No radiation</text>
<rect x="344.8" y="866.3" width="22.7" height="23" fill="#8e94bb"/>
<text transform="translate(371.91 874.3) scale(0.9864 1)" font-size="12.2" fill="#0a0a0a" stroke="#0a0a0a" stroke-width="0.25" stroke-linejoin="round">Radiation</text>
<text transform="translate(372.72 889.4) scale(0.9682 1)" font-size="12.2" fill="#0a0a0a" stroke="#0a0a0a" stroke-width="0.25" stroke-linejoin="round">therapy alone</text>
<rect x="344.8" y="905" width="22.7" height="23" fill="#314a85"/>
<text transform="translate(371.9 913.1) scale(0.9967 1)" font-size="12.2" fill="#0a0a0a" stroke="#0a0a0a" stroke-width="0.25" stroke-linejoin="round">Radiation with</text>
<text transform="translate(372.4 927.7) scale(0.9718 1)" font-size="12.2" fill="#0a0a0a" stroke="#0a0a0a" stroke-width="0.25" stroke-linejoin="round">chemotherapy</text>
</svg>
</body></html>
